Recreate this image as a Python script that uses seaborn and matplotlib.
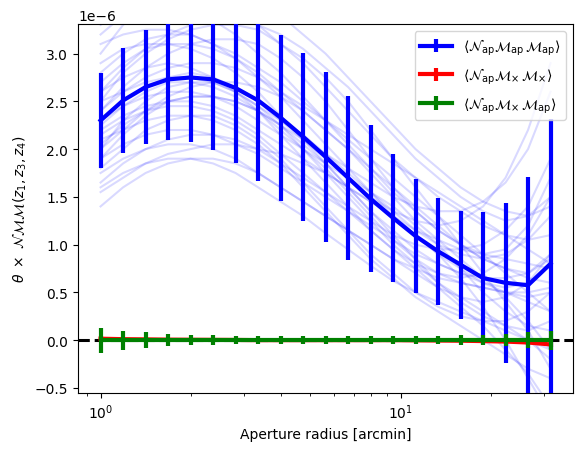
import numpy as np
import pandas as pd
import matplotlib
matplotlib.use("Agg")
import matplotlib.pyplot as plt
import seaborn as sns

SCALE = 1e-6
theta = [1.0, 1.189, 1.413, 1.679, 1.995, 2.371, 2.818, 3.350, 3.981, 4.732,
         5.623, 6.683, 7.943, 9.441, 11.22, 13.34, 15.85, 18.84, 22.39, 26.61, 31.62]

# mean <N_ap M_ap M_ap> and error (units of 1e-6)
nmm_mean = [2.30, 2.51, 2.65, 2.73, 2.75, 2.73, 2.64, 2.51, 2.33, 2.13, 1.92,
            1.70, 1.48, 1.28, 1.09, 0.93, 0.79, 0.65, 0.60, 0.575, 0.80]
nmm_err = [0.50, 0.55, 0.60, 0.63, 0.68, 0.74, 0.79, 0.84, 0.87, 0.88, 0.89,
           0.86, 0.77, 0.67, 0.60, 0.56, 0.565, 0.69, 0.84, 1.13, 1.52]

nxx_mean = [0.015, 0.01, 0.008, 0.005, 0.004, 0.003, 0.002, 0.0, 0.0, 0.0, 0.0,
            0.0, 0.0, 0.0, -0.002, -0.004, -0.006, -0.01, -0.015, -0.025, -0.045]
nxx_err = [0.03, 0.025, 0.02, 0.02, 0.018, 0.016, 0.015, 0.015, 0.015, 0.015, 0.015,
           0.015, 0.015, 0.015, 0.015, 0.016, 0.018, 0.02, 0.022, 0.025, 0.03]

nxm_mean = [0.0, 0.0, 0.0, 0.0, 0.0, 0.0, 0.0, 0.0, 0.0, 0.0, 0.0,
            0.0, 0.0, 0.0, 0.0, 0.0, 0.0, 0.0, 0.0, 0.0, 0.0]
nxm_err = [0.13, 0.10, 0.08, 0.065, 0.055, 0.05, 0.045, 0.045, 0.04, 0.04, 0.04,
           0.04, 0.04, 0.04, 0.04, 0.045, 0.05, 0.055, 0.065, 0.08, 0.10]

# individual realisations (units of 1e-6)
realisations = [
    [3.2, 3.4, 3.55, 3.6, 3.6, 3.55, 3.45, 3.3, 3.1, 2.9, 2.65, 2.4, 2.15, 1.9, 1.7, 1.5, 1.35, 1.2, 1.1, 1.05, 1.1],
    [1.6, 1.75, 1.85, 1.9, 1.9, 1.85, 1.75, 1.6, 1.45, 1.3, 1.12, 0.95, 0.78, 0.62, 0.5, 0.4, 0.3, 0.2, 0.1, 0.0, -0.1],
    [2.3, 2.5, 2.65, 2.75, 2.8, 2.75, 2.65, 2.5, 2.3, 2.1, 1.9, 1.7, 1.5, 1.35, 1.25, 1.2, 1.25, 1.4, 1.7, 2.2, 2.9],
    [2.0, 2.3, 2.5, 2.65, 2.7, 2.7, 2.6, 2.45, 2.25, 2.0, 1.75, 1.5, 1.25, 1.0, 0.8, 0.6, 0.45, 0.3, 0.15, 0.0, -0.2],
    [2.8, 3.0, 3.15, 3.2, 3.2, 3.1, 2.95, 2.75, 2.55, 2.3, 2.05, 1.8, 1.55, 1.3, 1.1, 0.9, 0.75, 0.6, 0.5, 0.45, 0.5],
    [1.9, 2.05, 2.15, 2.2, 2.2, 2.15, 2.05, 1.95, 1.8, 1.65, 1.5, 1.35, 1.2, 1.05, 0.9, 0.8, 0.7, 0.6, 0.55, 0.6, 0.8],
    [2.5, 2.8, 3.0, 3.15, 3.25, 3.3, 3.3, 3.25, 3.1, 2.95, 2.75, 2.5, 2.2, 1.9, 1.6, 1.3, 1.0, 0.7, 0.4, 0.1, -0.3],
    [1.4, 1.6, 1.75, 1.85, 1.9, 1.9, 1.85, 1.75, 1.6, 1.45, 1.3, 1.15, 1.0, 0.85, 0.75, 0.65, 0.6, 0.55, 0.5, 0.5, 0.55],
    [2.6, 2.75, 2.85, 2.9, 2.85, 2.75, 2.6, 2.4, 2.15, 1.9, 1.65, 1.4, 1.15, 0.95, 0.8, 0.7, 0.65, 0.7, 0.85, 1.1, 1.5],
    [2.2, 2.35, 2.45, 2.5, 2.5, 2.45, 2.35, 2.2, 2.05, 1.9, 1.75, 1.6, 1.45, 1.3, 1.1, 0.9, 0.65, 0.35, 0.0, -0.4, -0.8],
    [3.0, 3.3, 3.5, 3.65, 3.7, 3.7, 3.65, 3.55, 3.4, 3.2, 3.0, 2.75, 2.5, 2.25, 2.0, 1.8, 1.6, 1.45, 1.35, 1.3, 1.4],
    [1.8, 2.0, 2.2, 2.3, 2.35, 2.35, 2.25, 2.1, 1.9, 1.65, 1.4, 1.15, 0.9, 0.7, 0.5, 0.35, 0.25, 0.2, 0.2, 0.3, 0.5],
    [2.4, 2.6, 2.75, 2.85, 2.9, 2.9, 2.85, 2.75, 2.6, 2.45, 2.3, 2.15, 2.0, 1.85, 1.7, 1.55, 1.4, 1.25, 1.1, 0.95, 0.8],
    [2.1, 2.2, 2.3, 2.35, 2.35, 2.3, 2.2, 2.05, 1.85, 1.6, 1.35, 1.1, 0.85, 0.65, 0.45, 0.3, 0.15, 0.0, -0.15, -0.3, -0.4],
    [2.7, 2.9, 3.05, 3.1, 3.1, 3.05, 2.95, 2.8, 2.6, 2.4, 2.2, 2.0, 1.8, 1.6, 1.4, 1.2, 1.0, 0.85, 0.75, 0.7, 0.9],
    [1.65, 1.85, 2.0, 2.1, 2.15, 2.15, 2.1, 2.0, 1.85, 1.7, 1.55, 1.4, 1.25, 1.1, 1.0, 0.95, 0.95, 1.0, 1.15, 1.4, 1.9],
    [2.3, 2.45, 2.55, 2.6, 2.6, 2.55, 2.45, 2.3, 2.15, 2.0, 1.85, 1.7, 1.55, 1.4, 1.2, 1.0, 0.75, 0.5, 0.3, 0.15, 0.1],
    [3.3, 3.45, 3.5, 3.5, 3.45, 3.35, 3.2, 3.0, 2.8, 2.55, 2.3, 2.05, 1.8, 1.55, 1.35, 1.15, 1.0, 0.85, 0.75, 0.65, 0.6],
    [1.9, 2.15, 2.35, 2.5, 2.55, 2.55, 2.5, 2.4, 2.25, 2.05, 1.85, 1.6, 1.35, 1.1, 0.85, 0.6, 0.4, 0.25, 0.15, 0.1, 0.2],
    [2.5, 2.6, 2.7, 2.75, 2.75, 2.7, 2.6, 2.45, 2.3, 2.15, 1.95, 1.75, 1.55, 1.35, 1.15, 1.0, 0.9, 0.85, 0.9, 1.05, 1.3],
    [2.0, 2.2, 2.4, 2.55, 2.65, 2.7, 2.7, 2.65, 2.55, 2.4, 2.2, 2.0, 1.75, 1.5, 1.25, 1.05, 0.85, 0.65, 0.45, 0.2, -0.1],
    [2.9, 3.05, 3.1, 3.1, 3.05, 2.95, 2.8, 2.6, 2.35, 2.1, 1.85, 1.6, 1.35, 1.15, 0.95, 0.8, 0.7, 0.65, 0.65, 0.7, 0.85],
    [1.55, 1.7, 1.85, 1.95, 2.0, 2.05, 2.05, 2.0, 1.95, 1.85, 1.75, 1.6, 1.45, 1.3, 1.15, 1.05, 0.95, 0.9, 0.85, 0.8, 0.75],
    [2.4, 2.65, 2.85, 3.0, 3.1, 3.15, 3.15, 3.1, 2.95, 2.75, 2.5, 2.2, 1.9, 1.6, 1.35, 1.15, 1.0, 0.9, 0.95, 1.2, 1.7],
    [2.15, 2.3, 2.4, 2.45, 2.45, 2.4, 2.3, 2.15, 1.95, 1.75, 1.55, 1.35, 1.15, 0.95, 0.75, 0.55, 0.35, 0.15, -0.1, -0.35, -0.7],
    [2.6, 2.85, 3.05, 3.2, 3.3, 3.35, 3.35, 3.3, 3.2, 3.05, 2.85, 2.65, 2.4, 2.15, 1.9, 1.7, 1.5, 1.35, 1.25, 1.3, 1.5],
    [1.75, 1.9, 2.0, 2.05, 2.05, 2.0, 1.9, 1.75, 1.6, 1.45, 1.3, 1.15, 1.0, 0.85, 0.7, 0.55, 0.45, 0.4, 0.45, 0.6, 0.9],
    [2.25, 2.45, 2.6, 2.7, 2.7, 2.65, 2.55, 2.4, 2.2, 2.0, 1.8, 1.55, 1.3, 1.05, 0.85, 0.7, 0.6, 0.55, 0.5, 0.4, 0.3],
    [3.1, 3.2, 3.25, 3.25, 3.2, 3.1, 3.0, 2.85, 2.7, 2.5, 2.3, 2.1, 1.9, 1.7, 1.5, 1.3, 1.1, 0.9, 0.7, 0.5, 0.3],
    [2.05, 2.25, 2.4, 2.5, 2.55, 2.55, 2.5, 2.4, 2.25, 2.1, 1.95, 1.8, 1.65, 1.5, 1.4, 1.35, 1.35, 1.45, 1.65, 2.0, 2.6],
]

rows = []
for i, r in enumerate(realisations):
    for t, v in zip(theta, r):
        rows.append({"theta": t, "value": v * SCALE, "real": i})
df = pd.DataFrame(rows)

fig = plt.figure(figsize=(5.83, 4.52), dpi=100)
ax = fig.add_axes([0.1338, 0.128, 0.983 - 0.1338, 0.9447 - 0.128])

sns.lineplot(data=df, x="theta", y="value", units="real", estimator=None,
             color="blue", alpha=0.15, lw=1.5, ax=ax, legend=False)

ax.axhline(0, color="k", ls="--", lw=2.2, zorder=1)

th = np.array(theta)
ax.errorbar(th, np.array(nmm_mean) * SCALE, yerr=np.array(nmm_err) * SCALE,
            color="blue", lw=3, zorder=3,
            label=r"$\langle\mathcal{N}_{\rm ap}\mathcal{M}_{\rm ap}\,\mathcal{M}_{\rm ap}\rangle$")
ax.errorbar(th, np.array(nxx_mean) * SCALE, yerr=np.array(nxx_err) * SCALE,
            color="red", lw=3, zorder=4,
            label=r"$\langle\mathcal{N}_{\rm ap}\mathcal{M}_{\times}\,\mathcal{M}_{\times}\rangle$")
ax.errorbar(th, np.array(nxm_mean) * SCALE, yerr=np.array(nxm_err) * SCALE,
            color="green", lw=3, zorder=5,
            label=r"$\langle\mathcal{N}_{\rm ap}\mathcal{M}_{\times}\,\mathcal{M}_{\rm ap}\rangle$")

ax.set_xscale("log")
ax.set_xlim(0.841, 37.6)
ax.set_ylim(-0.555e-6, 3.31e-6)
ax.set_xlabel("Aperture radius [arcmin]")
ax.set_ylabel(r"$\theta\ \times\ \mathcal{N}\mathcal{M}\mathcal{M}(z_1, z_3, z_4)$")
ax.legend(loc="upper right", labelspacing=0.62, handlelength=2.3)

fig.savefig("out.png", dpi=100)
